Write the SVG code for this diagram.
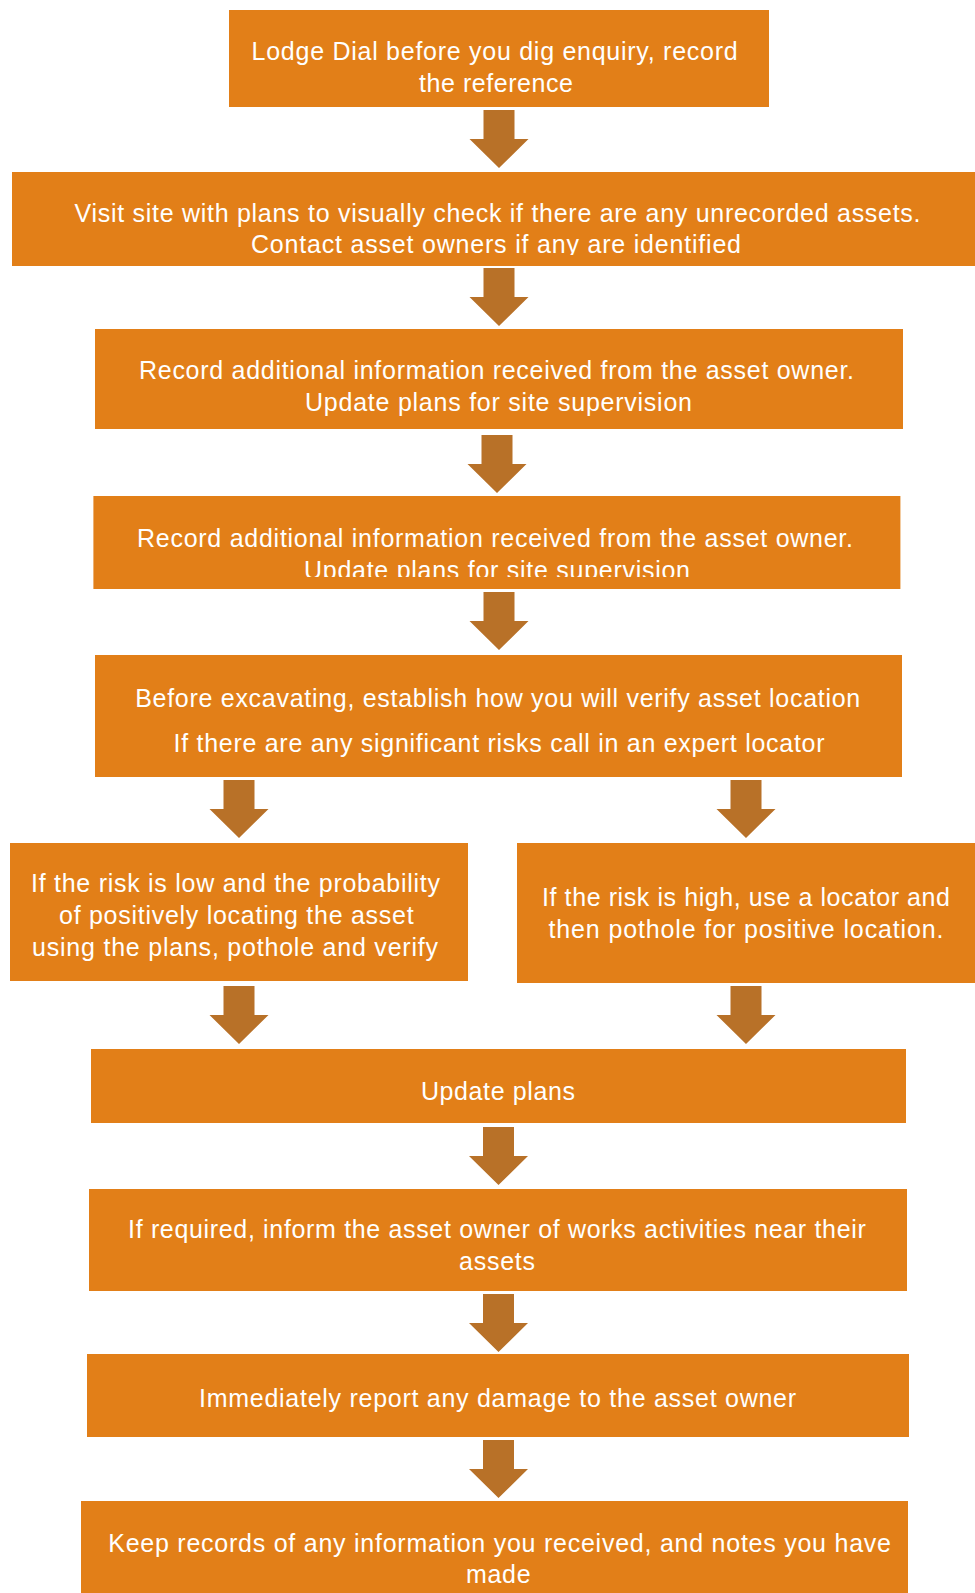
<svg xmlns="http://www.w3.org/2000/svg" xmlns:xlink="http://www.w3.org/1999/xlink" width="975" height="1593" viewBox="0 0 975 1593">
<style>
.box{fill:#E27F18;}
.arr{fill:#B87128;}
text{font-family:"Liberation Sans",Arial,sans-serif;font-size:25px;fill:#FFFFFF;text-anchor:middle;}
</style>
<defs>
<path id="arrow" d="M-15.5 0H15.5V29H29.5L0 58L-29.5 29H-15.5Z"/>
<clipPath id="clip2"><rect x="12" y="172" width="963" height="83"/></clipPath>
<clipPath id="clip4"><rect x="93" y="496" width="808" height="81"/></clipPath>
</defs>
<rect width="975" height="1593" fill="#FFFFFF"/>
<g id="connectors" class="arr">
<use href="#arrow" x="499" y="110"/>
<use href="#arrow" x="499" y="268"/>
<use href="#arrow" x="497" y="435"/>
<use href="#arrow" x="499" y="592"/>
<use href="#arrow" x="239" y="780"/>
<use href="#arrow" x="746" y="780"/>
<use href="#arrow" x="239" y="986"/>
<use href="#arrow" x="746" y="986"/>
<use href="#arrow" x="498.5" y="1127"/>
<use href="#arrow" x="498.5" y="1294"/>
<use href="#arrow" x="498.5" y="1440"/>
</g>
<g id="n1">
<rect class="box" x="229" y="10" width="540" height="97"/>
<text x="494.6" y="60" textLength="486" lengthAdjust="spacing">Lodge Dial before you dig enquiry, record</text>
<text x="496" y="91.7" textLength="154" lengthAdjust="spacing">the reference</text>
</g>
<g id="n2">
<rect class="box" x="12" y="172" width="963" height="94"/>
<text x="497.5" y="221.7" textLength="846" lengthAdjust="spacing">Visit site with plans to visually check if there are any unrecorded assets.</text>
<text x="496" y="253.3" textLength="490" lengthAdjust="spacing" clip-path="url(#clip2)">Contact asset owners if any are identified</text>
</g>
<g id="n3">
<rect class="box" x="95" y="329" width="808" height="100"/>
<text x="496.5" y="379" textLength="715" lengthAdjust="spacing">Record additional information received from the asset owner.</text>
<text x="498.5" y="411" textLength="387" lengthAdjust="spacing">Update plans for site supervision</text>
</g>
<g id="n4">
<rect class="box" x="93.4" y="496" width="807" height="93"/>
<text x="495" y="546.7" textLength="716" lengthAdjust="spacing">Record additional information received from the asset owner.</text>
<text x="497" y="579" textLength="386" lengthAdjust="spacing" clip-path="url(#clip4)">Update plans for site supervision</text>
</g>
<g id="n5">
<rect class="box" x="95" y="655" width="807" height="122"/>
<text x="497.7" y="706.7" textLength="725" lengthAdjust="spacing">Before excavating, establish how you will verify asset location</text>
<text x="499" y="752" textLength="651" lengthAdjust="spacing">If there are any significant risks call in an expert locator</text>
</g>
<g id="n6">
<rect class="box" x="10" y="843" width="458" height="138"/>
<text x="235.5" y="891.7" textLength="409" lengthAdjust="spacing">If the risk is low and the probability</text>
<text x="236.3" y="924" textLength="354.6" lengthAdjust="spacing">of positively locating the asset</text>
<text x="235" y="955.7" textLength="406" lengthAdjust="spacing">using the plans, pothole and verify</text>
</g>
<g id="n7">
<rect class="box" x="517" y="843" width="458" height="140"/>
<text x="746" y="906" textLength="408" lengthAdjust="spacing">If the risk is high, use a locator and</text>
<text x="746" y="937.7" textLength="395" lengthAdjust="spacing">then pothole for positive location.</text>
</g>
<g id="n8">
<rect class="box" x="91" y="1049" width="815" height="74"/>
<text x="497.9" y="1099.5" textLength="154" lengthAdjust="spacing">Update plans</text>
</g>
<g id="n9">
<rect class="box" x="89" y="1189" width="818" height="102"/>
<text x="496.9" y="1238.3" textLength="737.7" lengthAdjust="spacing">If required, inform the asset owner of works activities near their</text>
<text x="497" y="1270" textLength="76" lengthAdjust="spacing">assets</text>
</g>
<g id="n10">
<rect class="box" x="87" y="1354" width="822" height="83"/>
<text x="497.5" y="1406.7" textLength="597" lengthAdjust="spacing">Immediately report any damage to the asset owner</text>
</g>
<g id="n11">
<rect class="box" x="81" y="1501" width="827" height="92"/>
<text x="499.6" y="1551.7" textLength="782.7" lengthAdjust="spacing">Keep records of any information you received, and notes you have</text>
<text x="498.3" y="1583.3" textLength="64.6" lengthAdjust="spacing">made</text>
</g>
</svg>
